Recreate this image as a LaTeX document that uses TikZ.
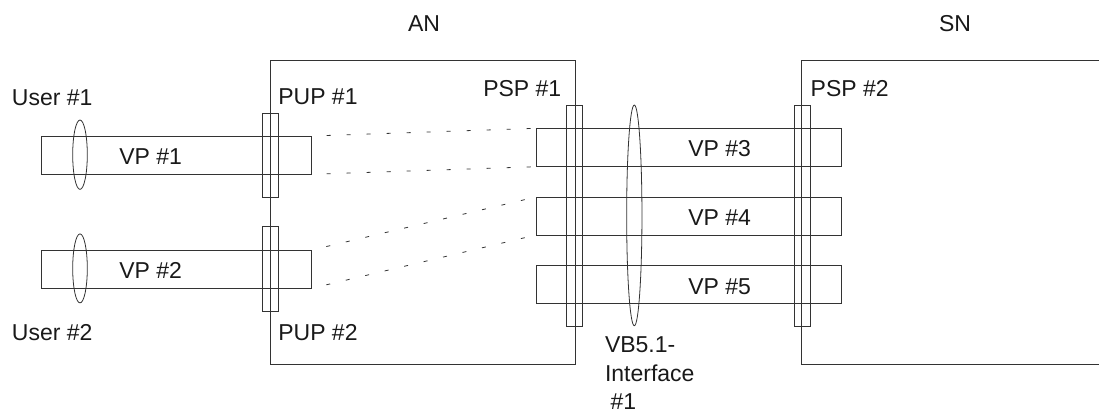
\documentclass[tikz,border=0pt]{standalone}
\usepackage{fontspec}
\setmainfont{Liberation Sans}
\usetikzlibrary{shapes.geometric}
\tikzset{
  every picture/.style={x=1pt,y=-1pt},
  ln/.style={draw=black!80,line width=0.8pt},
  box/.style={ln,rectangle,inner sep=0pt,outer sep=0pt},
  lens/.style={ln,ellipse,inner sep=0pt,outer sep=0pt},
  lbl/.style={inner sep=0pt,outer sep=0pt,anchor=base west,text=black!90,font=\fontsize{23}{27}\selectfont},
  lblc/.style={lbl,anchor=base},
  dotline/.style={draw=black!80,line width=0.8pt,dash pattern=on 4pt off 16pt,dash phase=5pt}
}
\begin{document}
\begin{tikzpicture}
\useasboundingbox (0,0) rectangle (1099,414);
% AN and SN boxes
\node[box,minimum width=304.3pt,minimum height=304pt] (an) at (422.85,212) {};
\coordinate (sntr) at (1099,60);
\coordinate (snbr) at (1099,364);
\draw[ln] (sntr) -| (801.7,364) -- (snbr);
% VP rectangles
\node[box,minimum width=270pt,minimum height=38.3pt] (vp1) at (176.7,155.15) {};
\node[box,minimum width=270pt,minimum height=38.3pt] (vp2) at (176.7,269.15) {};
\node[box,minimum width=305pt,minimum height=38.4pt] (vp3) at (688.5,147.5) {};
\node[box,minimum width=305pt,minimum height=38pt] (vp4) at (688.5,216) {};
\node[box,minimum width=305pt,minimum height=38.4pt] (vp5) at (688.5,284.5) {};
% PUP / PSP bars
\node[box,minimum width=15.6pt,minimum height=84pt] (pup1) at (270.5,155.3) {};
\node[box,minimum width=15.6pt,minimum height=84.3pt] (pup2) at (270.5,268.85) {};
\node[box,minimum width=15.6pt,minimum height=220.6pt] (psp1) at (574.5,216) {};
\node[box,minimum width=16pt,minimum height=220.7pt] (psp2) at (802.3,215.65) {};
% lenses
\node[lens,minimum width=14.6pt,minimum height=69.3pt] (u1) at (80,154.7) {};
\node[lens,minimum width=14.6pt,minimum height=69pt] (u2) at (80,268.4) {};
\node[lens,minimum width=15.3pt,minimum height=220.7pt] (vb) at (634.3,215.4) {};
% dashed mapping lines
\draw[dotline] (vp1.north east) -- (vp3.north west);
\draw[dotline] (vp1.south east) -- (vp3.south west);
\draw[dotline] (vp2.north east) -- (vp4.north west);
\draw[dotline] (vp2.south east) -- (vp4.south west);
% labels
\node[lblc] (tan) at (424,31.7) {AN};
\node[lblc] (tsn) at (955,31.7) {SN};
\node[lbl] (tu1) at (12,105.7) {User \#1};
\node[lbl] (tu2) at (12,340) {User \#2};
\node[lbl] (tpup1) at (278.3,105) {PUP \#1};
\node[lbl] (tpup2) at (278.3,340) {PUP \#2};
\node[lbl] (tpsp1) at (483.3,97) {PSP \#1};
\node[lbl] (tpsp2) at (810.7,97) {PSP \#2};
\node[lbl] (tvp1) at (119.3,164.5) {VP \#1};
\node[lbl] (tvp2) at (119.3,278.5) {VP \#2};
\node[lbl] (tvp3) at (688.3,157) {VP \#3};
\node[lbl] (tvp4) at (688.3,225.5) {VP \#4};
\node[lbl] (tvp5) at (688.3,294) {VP \#5};
\node[lbl] (tvb1) at (605,352.5) {VB5.1-};
\node[lbl] (tvb2) at (605,381.5) {Interface};
\node[lbl] (tvb3) at (610.7,409) {\#1};
\end{tikzpicture}
\end{document}
